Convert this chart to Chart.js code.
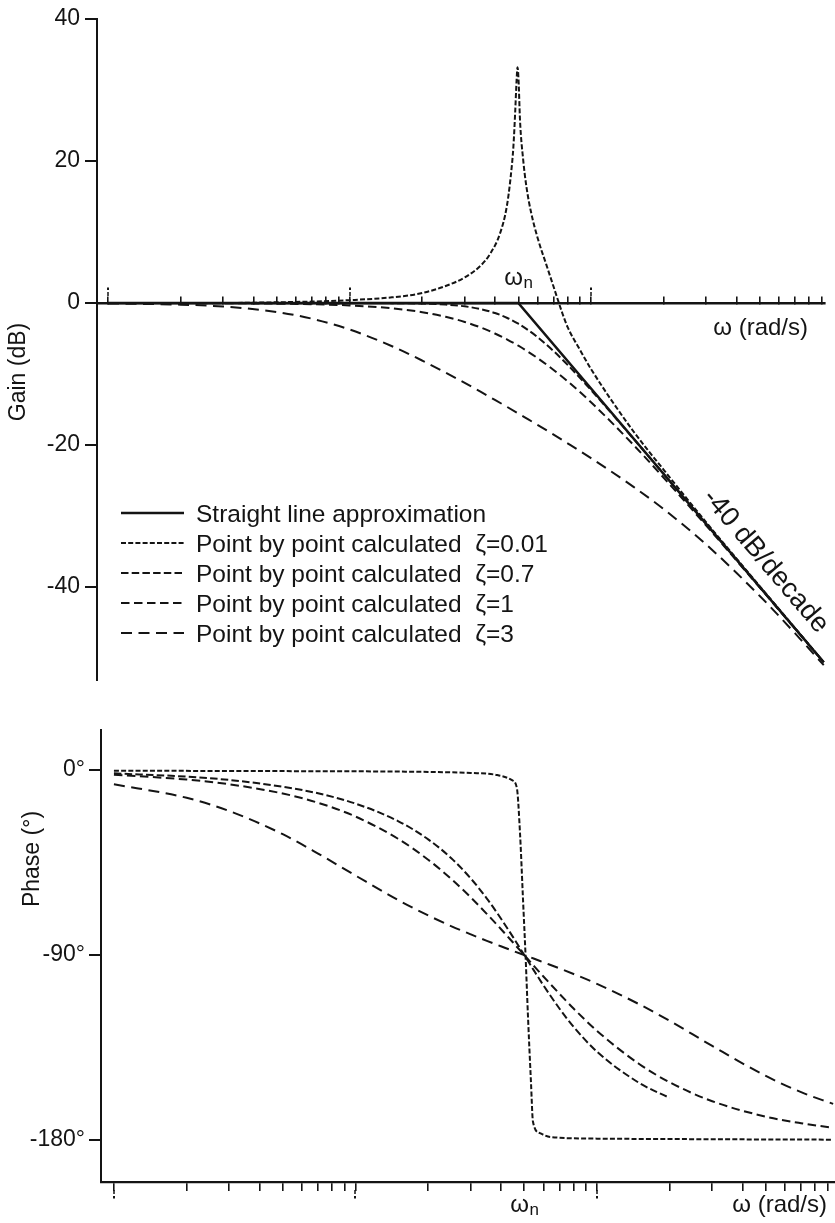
<!DOCTYPE html>
<html>
<head>
<meta charset="utf-8">
<title>Bode plot – second order system</title>
<script src="https://cdn.jsdelivr.net/npm/chart.js@4.4.1/dist/chart.umd.min.js"></script>
<style>
  html, body { margin:0; padding:0; background:#ffffff; }
  #wrap { position:relative; width:835px; height:1223px; overflow:hidden; background:#fff; }
  #gainChart { position:absolute; left:0; top:0; }
  #phaseChart { position:absolute; left:0; top:700px; }
</style>
</head>
<body>
<div id="wrap">
  <canvas id="gainChart" width="835" height="700"></canvas>
  <canvas id="phaseChart" width="835" height="523"></canvas>
</div>
<script>
// ================= DATA =================
// frequency grid (rad/s), natural frequency wn = 50
const omegaGrid = [1, 2, 3, 5, 7, 10, 15, 20, 25, 30, 35, 40, 45, 50, 55, 60, 70, 80, 100, 150, 200, 300, 500, 700, 920];
const omegaPeak = [1, 2, 3, 5, 7, 10, 15, 20, 25, 30, 35, 38, 42, 44.8, 46.5, 47.7, 48.5, 49.2, 49.6, 50.1, 50.8, 52.4, 54, 56.6, 60.3, 65.3, 69.5, 72, 76, 80, 90, 100, 150, 200, 300, 500, 700, 920];
const omegaStraight = [1, 50, 920];

// gain (dB)
const gainStraight = [0, 0, -50.6];
const gainZeta001 = [0, 0, 0, 0.1, 0.2, 0.4, 0.8, 1.4, 2.4, 3.6, 5.3, 6.8, 9.8, 13.6, 17.8, 22.0, 26.7, 31.5, 33.2, 31.5, 25.8, 20.1, 16.4, 12.6, 9.0, 5.4, 2.6, 1.0, -1.4, -3.4, -6.6, -9.3, -18.1, -23.5, -30.9, -39.9, -45.8, -50.6];
const gainZeta07 = [0, 0, 0, 0, 0, 0, -0.02, -0.08, -0.22, -0.47, -0.87, -1.41, -2.11, -2.92, -3.83, -4.79, -6.78, -8.72, -12.26, -19.12, -24.09, -31.12, -40.0, -45.84, -50.59];
const gainZeta1 = [0, -0.01, -0.03, -0.09, -0.17, -0.34, -0.75, -1.29, -1.94, -2.67, -3.46, -4.3, -5.15, -6.02, -6.89, -7.75, -9.43, -11.03, -13.98, -20.0, -24.61, -31.36, -40.09, -45.89, -50.62];
const gainZeta3 = [-0.06, -0.23, -0.5, -1.27, -2.22, -3.73, -6.09, -8.11, -9.81, -11.26, -12.53, -13.65, -14.65, -15.56, -16.4, -17.16, -18.54, -19.76, -21.85, -25.89, -29.04, -34.02, -41.27, -46.54, -51.01];

// phase (degrees)
const omegaPhaseGrid = [1, 2, 3, 5, 7, 10, 15, 20, 25, 30, 35, 40, 45, 50, 55, 60, 70, 80, 100, 150, 200, 300, 500, 700, 950];
const omegaPhaseSharp = [1, 5, 10, 20, 30, 38.5, 44.5, 46.6, 48, 49.4, 50.6, 51.8, 53.3, 54.3, 58, 64, 100, 200, 500, 950];
const phaseZeta001 = [-0.3, -0.5, -0.6, -0.9, -1.4, -2.4, -4.9, -8.8, -30.6, -63, -90, -120, -152, -171, -176.6, -178.5, -179.3, -179.5, -179.7, -179.8];
const phaseZeta07 = [-1.6, -3.2, -4.8, -8.1, -11.3, -16.3, -24.8, -33.7, -43.0, -52.7, -62.5, -72.2, -81.4, -90, -97.8, -104.7, -116.1, -124.9, -137.0, -152.3, -159.5];
const phaseZeta1 = [-2.3, -4.6, -6.9, -11.4, -15.9, -22.6, -33.4, -43.6, -53.1, -61.9, -70.0, -77.3, -84.0, -90, -95.5, -100.4, -108.9, -116.0, -126.9, -143.1, -151.9, -161.1, -168.6, -171.8, -174.0];
const phaseZeta3 = [-6.9, -13.5, -19.9, -31.2, -40.6, -51.3, -63.2, -70.7, -76.0, -79.9, -83.1, -85.7, -88.0, -90, -91.8, -93.5, -96.5, -99.2, -104.0, -114.0, -122.0, -134.2, -148.8, -156.7, -162.4];

// axes
const xTickValues = [1, 2, 3, 4, 5, 6, 7, 8, 9, 10, 20, 30, 40, 50, 60, 70, 80, 90, 100, 200, 300, 400, 500, 600, 700, 800, 900];
const decadeValues = [1, 10, 100];
const omegaN = 50;
const gainTicks = [40, 20, 0, -20, -40];
const phaseTicks = [0, -90, -180];

// labels
const legendLabels = [
  'Straight line approximation',
  'Point by point calculated  \u03B6=0.01',
  'Point by point calculated  \u03B6=0.7',
  'Point by point calculated  \u03B6=1',
  'Point by point calculated  \u03B6=3'
];
const gainTitle = 'Gain (dB)';
const phaseTitle = 'Phase (\u00B0)';
const freqTitle = '\u03C9 (rad/s)';
const slopeLabel = '-40 dB/decade';

// ================= STYLE =================
const FONT = '"Liberation Sans", Arial, Helvetica, sans-serif';
const INK = '#141414';
Chart.defaults.font.family = FONT;
Chart.defaults.color = INK;

const dashes = { z001: [5, 2.2], z07: [7.5, 3.2], z1: [8.5, 4.5], z3: [11, 6.5] };

function pts(xs, ys) { return ys.map((y, i) => ({ x: xs[i], y: y })); }

function lineDs(label, data, dash, width, smooth) {
  return {
    label: label, data: data, borderColor: INK, backgroundColor: INK,
    borderWidth: width, borderDash: dash, pointRadius: 0, fill: false,
    tension: 0, cubicInterpolationMode: smooth ? 'monotone' : 'default',
    borderCapStyle: 'butt', borderJoinStyle: 'round'
  };
}

function drawOmegaN(ctx, cx, baseY, size) {
  ctx.textAlign = 'left';
  ctx.textBaseline = 'alphabetic';
  ctx.font = size + 'px ' + FONT;
  const w1 = ctx.measureText('\u03C9').width;
  const subSize = Math.round(size * 0.7);
  ctx.font = subSize + 'px ' + FONT;
  const w2 = ctx.measureText('n').width;
  const x0 = cx - (w1 + w2) / 2;
  ctx.font = size + 'px ' + FONT;
  ctx.fillText('\u03C9', x0, baseY);
  ctx.font = subSize + 'px ' + FONT;
  ctx.fillText('n', x0 + w1 + 0.5, baseY + 3);
}

// ================= GAIN CHART =================
const gainDecor = {
  id: 'gainDecor',
  afterDraw(chart) {
    const { ctx, scales: { x, y } } = chart;
    ctx.save();
    ctx.fillStyle = INK; ctx.strokeStyle = INK;
    const y0 = y.getPixelForValue(0);

    // decade markers ("i" shaped ticks)
    decadeValues.forEach(v => {
      const px = Math.round(x.getPixelForValue(v));
      ctx.fillRect(px - 0.75, y0 - 11, 1.5, 4);
      ctx.fillRect(px - 1, y0 - 15.5, 2, 2.5);
    });

    // axis title
    ctx.save();
    ctx.translate(19, 372);
    ctx.rotate(-Math.PI / 2);
    ctx.font = '23px ' + FONT;
    ctx.textAlign = 'center';
    ctx.textBaseline = 'middle';
    ctx.fillText(gainTitle, 0, 0);
    ctx.restore();

    // omega_n and axis label
    drawOmegaN(ctx, x.getPixelForValue(omegaN), y0 - 18, 24);
    ctx.font = '24px ' + FONT;
    ctx.textAlign = 'right';
    ctx.textBaseline = 'alphabetic';
    ctx.fillText(freqTitle, 808, y0 + 32);

    // slope label along the straight line
    const p1 = { x: x.getPixelForValue(omegaStraight[1]), y: y.getPixelForValue(gainStraight[1]) };
    const p2 = { x: x.getPixelForValue(omegaStraight[2]), y: y.getPixelForValue(gainStraight[2]) };
    const ang = Math.atan2(p2.y - p1.y, p2.x - p1.x);
    const t = 0.757;
    const cx = p1.x + (p2.x - p1.x) * t + Math.sin(ang) * 21;
    const cy = p1.y + (p2.y - p1.y) * t - Math.cos(ang) * 21;
    ctx.save();
    ctx.translate(cx, cy);
    ctx.rotate(ang);
    ctx.font = '27.5px ' + FONT;
    ctx.textAlign = 'center';
    ctx.textBaseline = 'middle';
    ctx.fillText(slopeLabel, 0, 0);
    ctx.restore();

    // legend
    ctx.font = '24.5px ' + FONT;
    ctx.textAlign = 'left';
    ctx.textBaseline = 'middle';
    chart.data.datasets.forEach((ds, i) => {
      const ly = 513 + 30 * i;
      ctx.save();
      ctx.lineWidth = ds.borderWidth;
      ctx.setLineDash(ds.borderDash || []);
      ctx.beginPath();
      ctx.moveTo(121, ly);
      ctx.lineTo(184, ly);
      ctx.stroke();
      ctx.restore();
      ctx.fillText(ds.label, 196, ly + 2);
    });
    ctx.restore();
  }
};

new Chart(document.getElementById('gainChart'), {
  type: 'line',
  data: {
    datasets: [
      lineDs(legendLabels[0], pts(omegaStraight, gainStraight), [], 2.6, false),
      lineDs(legendLabels[1], pts(omegaPeak, gainZeta001), dashes.z001, 2, true),
      lineDs(legendLabels[2], pts(omegaGrid, gainZeta07), dashes.z07, 2, true),
      lineDs(legendLabels[3], pts(omegaGrid, gainZeta1), dashes.z1, 2, true),
      lineDs(legendLabels[4], pts(omegaGrid, gainZeta3), dashes.z3, 2, true)
    ]
  },
  options: {
    responsive: false, animation: false, devicePixelRatio: 1,
    layout: { padding: { left: 0, top: 19, right: 10, bottom: 20 } },
    plugins: { legend: { display: false }, tooltip: { enabled: false } },
    scales: {
      x: {
        type: 'logarithmic', min: 0.9, max: 931, position: { y: 0 },
        afterBuildTicks: s => { s.ticks = xTickValues.map(v => ({ value: v })); },
        ticks: { display: false },
        grid: { display: true, drawOnChartArea: false, drawTicks: true, tickLength: -8, color: INK, lineWidth: 1.6 },
        border: { display: true, color: INK, width: 2.5 }
      },
      y: {
        type: 'linear', min: -53.1, max: 40, position: 'left',
        afterBuildTicks: s => { s.ticks = gainTicks.map(v => ({ value: v })); },
        afterFit: s => { s.width = 97; },
        ticks: { color: INK, font: { family: FONT, size: 23 }, padding: 5 },
        grid: { display: true, drawOnChartArea: false, drawTicks: true, tickLength: 12, color: INK, lineWidth: 2 },
        border: { display: true, color: INK, width: 2 }
      }
    }
  },
  plugins: [gainDecor]
});

// ================= PHASE CHART =================
const phaseDecor = {
  id: 'phaseDecor',
  afterDraw(chart) {
    const { ctx, scales: { x }, chartArea } = chart;
    ctx.save();
    ctx.fillStyle = INK;
    const yb = chartArea.bottom;
    decadeValues.forEach(v => {
      const px = Math.round(x.getPixelForValue(v));
      ctx.fillRect(px - 0.75, yb + 8, 1.5, 4);
      ctx.fillRect(px - 1, yb + 14, 2, 2.5);
    });

    ctx.save();
    ctx.translate(33, 159);
    ctx.rotate(-Math.PI / 2);
    ctx.font = '23px ' + FONT;
    ctx.textAlign = 'center';
    ctx.textBaseline = 'middle';
    ctx.fillText(phaseTitle, 0, 0);
    ctx.restore();

    drawOmegaN(ctx, x.getPixelForValue(omegaN), yb + 30, 24);
    ctx.font = '24px ' + FONT;
    ctx.textAlign = 'right';
    ctx.textBaseline = 'alphabetic';
    ctx.fillText(freqTitle, 827, yb + 30);
    ctx.restore();
  }
};

new Chart(document.getElementById('phaseChart'), {
  type: 'line',
  data: {
    datasets: [
      lineDs(legendLabels[1], pts(omegaPhaseSharp, phaseZeta001), dashes.z001, 2, true),
      lineDs(legendLabels[2], pts(omegaPhaseGrid, phaseZeta07), dashes.z07, 2, true),
      lineDs(legendLabels[3], pts(omegaPhaseGrid, phaseZeta1), dashes.z1, 2, true),
      lineDs(legendLabels[4], pts(omegaPhaseGrid, phaseZeta3), dashes.z3, 2, true)
    ]
  },
  options: {
    responsive: false, animation: false, devicePixelRatio: 1,
    layout: { padding: { left: 0, top: 30, right: 0, bottom: 0 } },
    plugins: { legend: { display: false }, tooltip: { enabled: false } },
    scales: {
      x: {
        type: 'logarithmic', min: 0.884, max: 967, position: 'bottom',
        afterBuildTicks: s => { s.ticks = xTickValues.map(v => ({ value: v })); },
        afterFit: s => { s.height = 41; },
        ticks: { display: false },
        grid: { display: true, drawOnChartArea: false, drawTicks: true, tickLength: 9, color: INK, lineWidth: 1.6 },
        border: { display: true, color: INK, width: 2.2 }
      },
      y: {
        type: 'linear', min: -200.4, max: 19.5, position: 'left',
        afterBuildTicks: s => { s.ticks = phaseTicks.map(v => ({ value: v })); },
        afterFit: s => { s.width = 101; },
        ticks: { color: INK, font: { family: FONT, size: 23 }, padding: 4, callback: v => v + '\u00B0' },
        grid: { display: true, drawOnChartArea: false, drawTicks: true, tickLength: 12, color: INK, lineWidth: 2 },
        border: { display: true, color: INK, width: 2 }
      }
    }
  },
  plugins: [phaseDecor]
});
</script>
</body>
</html>
